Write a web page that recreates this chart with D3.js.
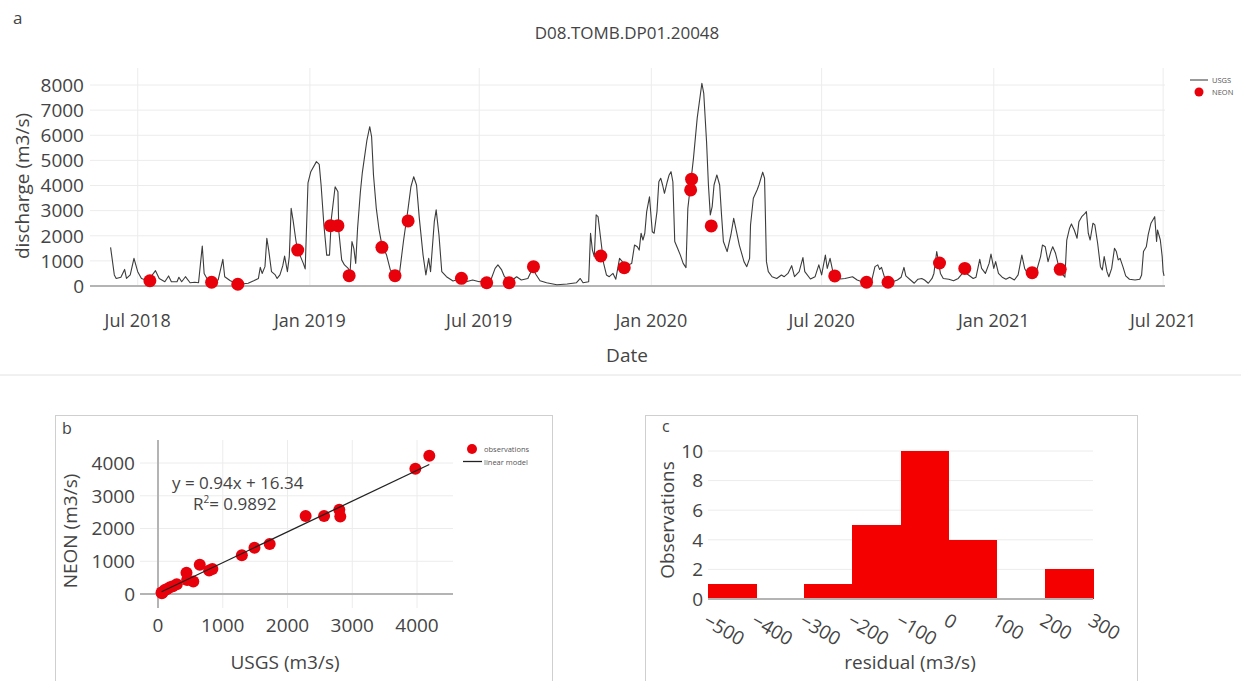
<!DOCTYPE html>
<html><head><meta charset="utf-8">
<script src="https://cdn.jsdelivr.net/npm/d3@7"></script>
<style>
body{margin:0;background:#fff;}
svg{display:block;font-family:"Open Sans",sans-serif;}
</style></head>
<body>
<svg id="c" width="1241" height="681"></svg>
<script>
// ---------------- DATA ----------------
const title = "D08.TOMB.DP01.20048";
const usgsDates = ["2018-06-02","2018-06-06","2018-06-08","2018-06-13","2018-06-17","2018-06-19","2018-06-23","2018-06-27","2018-07-01","2018-07-05","2018-07-12","2018-07-20","2018-07-24","2018-07-30","2018-08-03","2018-08-06","2018-08-12","2018-08-14","2018-08-17","2018-08-21","2018-08-26","2018-08-31","2018-09-04","2018-09-08","2018-09-10","2018-09-13","2018-09-18","2018-09-25","2018-09-30","2018-10-02","2018-10-08","2018-10-13","2018-10-20","2018-10-27","2018-11-02","2018-11-07","2018-11-09","2018-11-11","2018-11-14","2018-11-16","2018-11-18","2018-11-21","2018-11-25","2018-11-27","2018-11-30","2018-12-03","2018-12-05","2018-12-08","2018-12-10","2018-12-12","2018-12-14","2018-12-17","2018-12-19","2018-12-22","2018-12-25","2018-12-27","2018-12-30",
"2019-01-02","2019-01-08","2019-01-11","2019-01-13","2019-01-16","2019-01-19","2019-01-22","2019-01-24","2019-01-28","2019-01-31","2019-02-01","2019-02-04","2019-02-07","2019-02-11","2019-02-13","2019-02-15","2019-02-17","2019-02-19","2019-02-21","2019-02-24","2019-02-26","2019-02-28","2019-03-03","2019-03-06","2019-03-08","2019-03-10","2019-03-13","2019-03-16","2019-03-19","2019-03-24","2019-03-28","2019-04-02","2019-04-07","2019-04-11","2019-04-16","2019-04-19","2019-04-22","2019-04-25","2019-04-28","2019-05-02","2019-05-05","2019-05-08","2019-05-10","2019-05-14","2019-05-16","2019-05-19","2019-05-22","2019-05-27","2019-06-03","2019-06-10","2019-06-17","2019-06-24","2019-07-01","2019-07-07","2019-07-14","2019-07-18","2019-07-21","2019-07-25","2019-07-28","2019-08-01","2019-08-03","2019-08-10","2019-08-15","2019-08-22","2019-08-27","2019-08-31","2019-09-04","2019-09-11","2019-09-22","2019-10-03","2019-10-13","2019-10-17","2019-10-20","2019-10-26","2019-10-28","2019-10-30","2019-11-01","2019-11-03","2019-11-05","2019-11-08","2019-11-11","2019-11-14","2019-11-17","2019-11-21","2019-11-24","2019-11-28","2019-12-01","2019-12-07","2019-12-11","2019-12-14","2019-12-17","2019-12-19","2019-12-21","2019-12-23","2019-12-25","2019-12-27","2019-12-30",
"2020-01-02","2020-01-04","2020-01-07","2020-01-09","2020-01-11","2020-01-13","2020-01-15","2020-01-18","2020-01-20","2020-01-22","2020-01-24","2020-01-26","2020-01-29","2020-02-01","2020-02-04","2020-02-07","2020-02-09","2020-02-11","2020-02-15","2020-02-19","2020-02-24","2020-02-26","2020-02-29","2020-03-02","2020-03-04","2020-03-06","2020-03-08","2020-03-11","2020-03-14","2020-03-16","2020-03-18","2020-03-22","2020-03-26","2020-03-29","2020-04-01","2020-04-04","2020-04-06","2020-04-09","2020-04-12","2020-04-15","2020-04-16","2020-04-19","2020-04-23","2020-04-25","2020-04-29","2020-05-01","2020-05-03","2020-05-05","2020-05-09","2020-05-14","2020-05-19","2020-05-22","2020-05-26","2020-05-30","2020-06-02","2020-06-07","2020-06-11","2020-06-13","2020-06-19","2020-06-24","2020-06-28","2020-07-01","2020-07-05","2020-07-07","2020-07-10","2020-07-13","2020-07-21","2020-07-26","2020-08-03","2020-08-08","2020-08-13","2020-08-18","2020-08-23","2020-08-27","2020-08-30","2020-09-01","2020-09-03","2020-09-06","2020-09-10","2020-09-15","2020-09-20","2020-09-24","2020-09-27","2020-09-29","2020-10-04","2020-10-08","2020-10-12","2020-10-16","2020-10-19","2020-10-23","2020-10-27","2020-10-29","2020-11-01","2020-11-02","2020-11-05","2020-11-08","2020-11-14","2020-11-19","2020-11-24","2020-11-30","2020-12-05","2020-12-10","2020-12-13","2020-12-17","2020-12-19","2020-12-23","2020-12-27","2020-12-29",
"2021-01-01","2021-01-03","2021-01-06","2021-01-10","2021-01-14","2021-01-18","2021-01-23","2021-01-27","2021-01-31","2021-02-03","2021-02-06","2021-02-12","2021-02-16","2021-02-20","2021-02-22","2021-02-25","2021-02-28","2021-03-03","2021-03-05","2021-03-08","2021-03-11","2021-03-13","2021-03-16","2021-03-18","2021-03-20","2021-03-23","2021-03-25","2021-03-28","2021-03-31","2021-04-02","2021-04-05","2021-04-08","2021-04-10","2021-04-12","2021-04-14","2021-04-17","2021-04-19","2021-04-22","2021-04-25","2021-04-27","2021-04-29","2021-05-02","2021-05-04","2021-05-07","2021-05-10","2021-05-12","2021-05-14","2021-05-16","2021-05-19","2021-05-22","2021-05-26","2021-06-01","2021-06-06","2021-06-08","2021-06-10","2021-06-13","2021-06-15","2021-06-18","2021-06-20","2021-06-22","2021-06-24","2021-06-25","2021-06-28","2021-06-30","2021-07-01","2021-07-02"];
const usgsValues = [1540,440,300,350,660,300,440,1100,570,300,210,610,300,170,400,170,170,350,170,370,130,150,130,1590,500,300,170,240,1060,370,210,130,80,110,210,300,740,500,770,1900,1430,570,440,300,440,800,1190,570,1170,3090,2630,1830,1370,1170,900,680,4100,
4550,4950,4840,4020,2430,1230,1230,2690,3950,3750,2160,1040,840,700,570,1770,1500,900,2300,3750,4490,5020,5810,6340,5940,4420,3090,2230,1630,1230,640,440,570,1770,3090,3950,4350,4020,2690,1230,440,1100,570,2560,3030,2030,570,370,200,280,170,240,170,240,300,700,840,640,370,280,170,370,240,300,700,440,210,130,50,80,130,300,130,170,2100,1430,1170,2830,2760,1830,900,440,370,500,270,1100,970,840,900,1630,1560,1430,2100,1830,2100,2960,3550,
2160,2100,2960,4150,4290,4020,3690,4150,4420,4550,4150,1770,1500,1230,900,730,3090,3750,5080,6680,8070,7670,5740,4020,2830,3160,4020,4420,4020,2830,1770,1370,2030,2690,2160,1630,1370,970,770,1100,2430,3490,3820,4020,4530,4290,970,570,370,300,440,370,500,810,370,570,1130,570,280,370,840,440,1230,700,1100,570,280,300,370,240,170,80,130,770,840,660,740,370,240,170,240,350,740,400,240,110,270,300,240,110,300,500,1370,1170,500,300,270,210,300,570,440,300,350,1060,700,500,900,1270,
700,970,500,350,270,350,240,440,1230,700,500,440,640,1170,1630,1560,970,1370,1560,1300,840,660,440,350,1830,2300,2470,2230,1900,2560,2760,2870,2960,2100,1830,2500,2430,1700,770,640,1170,570,370,700,1500,1370,1040,1100,770,400,270,240,270,440,1370,1560,2030,2500,2630,2760,1770,2230,1830,1170,570,400];
const neonDates = ["2018-07-14","2018-09-18","2018-10-16","2018-12-19","2019-01-23","2019-01-31","2019-02-12","2019-03-19","2019-04-02","2019-04-16","2019-06-12","2019-07-09","2019-08-02","2019-08-28","2019-11-08","2019-12-03","2020-02-13","2020-02-12","2020-03-05","2020-07-15","2020-08-18","2020-09-10","2020-11-04","2020-12-01","2021-02-11","2021-03-13"];
const neonValues = [210,150,70,1430,2400,2400,410,1540,410,2590,305,130,130,770,1195,730,4250,3825,2390,400,150,150,915,700,530,665];
const yTicksA = [0,1000,2000,3000,4000,5000,6000,7000,8000];
const xTickDatesA = ["2018-07-01","2019-01-01","2019-07-01","2020-01-01","2020-07-01","2021-01-01","2021-07-01"];
const xTickLabelsA = ["Jul 2018","Jan 2019","Jul 2019","Jan 2020","Jul 2020","Jan 2021","Jul 2021"];

// panel b: observation pairs
const obsUSGS = [4190,3975,2280,2565,2800,2815,1295,1490,1725,645,790,840,440,450,545,290,185,105,55,75,140,60,230];
const obsNEON = [4220,3825,2380,2380,2570,2370,1185,1410,1530,890,720,760,650,430,380,300,205,125,45,60,150,20,240];
const modelSlope = 0.94, modelIntercept = 16.34;
const ticksB = [0,1000,2000,3000,4000];

// panel c: residual histogram
const binStarts = [-500,-400,-300,-200,-100,0,100,200];
const binCounts = [1,0,1,5,10,4,0,2];
const binWidth = 100;
const yTicksC = [0,2,4,6,8,10];
const xTicksC = [-500,-400,-300,-200,-100,0,100,200,300];

// ---------------- DRAW ----------------
const svg = d3.select("#c");
const P = d3.timeParse("%Y-%m-%d");
const txt = "#444", grid = "#ececec", zero = "#b4b4b4";
const markRed = "#e8000b", barRed = "#f50000";

// ===== Panel a =====
const xA = d3.scaleTime().domain([P("2018-05-11"), P("2021-07-03")]).range([90, 1165]);
const yA = d3.scaleLinear().domain([0, 8000]).range([286, 85]);
const gA = svg.append("g");
gA.selectAll(".gy").data(yTicksA.slice(1)).join("line")
  .attr("x1", 90).attr("x2", 1165).attr("y1", d => yA(d)).attr("y2", d => yA(d))
  .attr("stroke", grid).attr("stroke-width", 1);
gA.selectAll(".gx").data(xTickDatesA).join("line")
  .attr("x1", d => xA(P(d))).attr("x2", d => xA(P(d))).attr("y1", 68).attr("y2", 286)
  .attr("stroke", grid).attr("stroke-width", 1);
gA.append("line").attr("x1", 90).attr("x2", 1165).attr("y1", yA(0)).attr("y2", yA(0))
  .attr("stroke", zero).attr("stroke-width", 2);
const usgs = usgsDates.map((d, i) => ({d: P(d), v: usgsValues[i]}));
gA.append("path").datum(usgs)
  .attr("d", d3.line().x(p => xA(p.d)).y(p => yA(p.v)))
  .attr("fill", "none").attr("stroke", "#3c3c3c").attr("stroke-width", 1.1).attr("stroke-linejoin", "round");
const neon = neonDates.map((d, i) => ({d: P(d), v: neonValues[i]}));
gA.selectAll(".neon").data(neon).join("circle")
  .attr("cx", p => xA(p.d)).attr("cy", p => yA(p.v)).attr("r", 6.5).attr("fill", markRed);
gA.selectAll(".yl").data(yTicksA).join("text")
  .attr("x", 84).attr("y", d => yA(d)).attr("dy", "0.36em").attr("text-anchor", "end")
  .attr("font-size", 19).attr("fill", txt).text(d => d);
gA.selectAll(".xl").data(xTickDatesA).join("text")
  .attr("x", d => xA(P(d))).attr("y", 327).attr("text-anchor", "middle")
  .attr("font-size", 18).attr("fill", txt).text((d, i) => xTickLabelsA[i]);
gA.append("text").attr("x", 627).attr("y", 362).attr("text-anchor", "middle")
  .attr("font-size", 19).attr("fill", txt).text("Date");
gA.append("text").attr("transform", "translate(29,186) rotate(-90)").attr("text-anchor", "middle")
  .attr("font-size", 19).attr("fill", txt).text("discharge (m3/s)");
gA.append("text").attr("x", 627).attr("y", 39).attr("text-anchor", "middle")
  .attr("font-size", 17).attr("fill", txt).text(title);
gA.append("text").attr("x", 13).attr("y", 24).attr("font-size", 17).attr("fill", txt).text("a");
// legend a
gA.append("line").attr("x1", 1190).attr("x2", 1208).attr("y1", 80).attr("y2", 80).attr("stroke", "#777").attr("stroke-width", 1.5);
gA.append("text").attr("x", 1212).attr("y", 80).attr("dy", "0.35em").attr("font-size", 7.5).attr("fill", "#555").text("USGS");
gA.append("circle").attr("cx", 1199).attr("cy", 92).attr("r", 4.5).attr("fill", markRed);
gA.append("text").attr("x", 1212).attr("y", 92).attr("dy", "0.35em").attr("font-size", 7.5).attr("fill", "#555").text("NEON");

// separator
svg.append("line").attr("x1", 0).attr("x2", 1241).attr("y1", 375).attr("y2", 375).attr("stroke", "#e2e2e2").attr("stroke-width", 1);

// ===== Panel b =====
const gB = svg.append("g");
gB.append("rect").attr("x", 55.5).attr("y", 415.5).attr("width", 497).attr("height", 280).attr("fill", "none").attr("stroke", "#cfcfcf");
const xB = d3.scaleLinear().domain([0, 4000]).range([158, 417]);
const yB = d3.scaleLinear().domain([0, 4000]).range([594, 463]);
gB.selectAll(".gxb").data(ticksB.slice(1)).join("line")
  .attr("x1", d => xB(d)).attr("x2", d => xB(d)).attr("y1", 440).attr("y2", 608).attr("stroke", grid);
gB.selectAll(".gyb").data(ticksB.slice(1)).join("line")
  .attr("x1", 140).attr("x2", 453).attr("y1", d => yB(d)).attr("y2", d => yB(d)).attr("stroke", grid);
gB.append("line").attr("x1", 140).attr("x2", 453).attr("y1", yB(0)).attr("y2", yB(0)).attr("stroke", zero).attr("stroke-width", 2);
gB.append("line").attr("x1", xB(0)).attr("x2", xB(0)).attr("y1", 440).attr("y2", 608).attr("stroke", zero).attr("stroke-width", 2);
gB.selectAll(".ob").data(obsUSGS.map((u, i) => [u, obsNEON[i]])).join("circle")
  .attr("cx", p => xB(p[0])).attr("cy", p => yB(p[1])).attr("r", 6).attr("fill", markRed);
const xmin = d3.min(obsUSGS), xmax = d3.max(obsUSGS);
gB.append("line").attr("x1", xB(xmin)).attr("y1", yB(modelSlope * xmin + modelIntercept))
  .attr("x2", xB(xmax)).attr("y2", yB(modelSlope * xmax + modelIntercept))
  .attr("stroke", "#222").attr("stroke-width", 1.3);
gB.selectAll(".ylb").data(ticksB).join("text")
  .attr("x", 135).attr("y", d => yB(d)).attr("dy", "0.36em").attr("text-anchor", "end")
  .attr("font-size", 19).attr("fill", txt).text(d => d);
gB.selectAll(".xlb").data(ticksB).join("text")
  .attr("x", d => xB(d)).attr("y", 632).attr("text-anchor", "middle")
  .attr("font-size", 19).attr("fill", txt).text(d => d);
gB.append("text").attr("x", 285).attr("y", 669).attr("text-anchor", "middle").attr("font-size", 19).attr("fill", txt).text("USGS (m3/s)");
gB.append("text").attr("transform", "translate(77,531) rotate(-90)").attr("text-anchor", "middle").attr("font-size", 19).attr("fill", txt).text("NEON (m3/s)");
gB.append("text").attr("x", 62).attr("y", 434).attr("font-size", 16).attr("fill", txt).text("b");
gB.append("text").attr("x", 172).attr("y", 489).attr("font-size", 17).attr("fill", txt)
  .text(`y = ${modelSlope}x + ${modelIntercept}`);
const r2 = gB.append("text").attr("x", 193).attr("y", 510).attr("font-size", 17).attr("fill", txt);
r2.append("tspan").text("R");
r2.append("tspan").attr("font-size", 10).attr("dy", -7).text("2");
r2.append("tspan").attr("dy", 7).text("= 0.9892");
gB.append("circle").attr("cx", 472).attr("cy", 449).attr("r", 5).attr("fill", markRed);
gB.append("text").attr("x", 484).attr("y", 449).attr("dy", "0.35em").attr("font-size", 7.5).attr("fill", "#555").text("observations");
gB.append("line").attr("x1", 463).attr("x2", 482).attr("y1", 461.5).attr("y2", 461.5).attr("stroke", "#222").attr("stroke-width", 1.3);
gB.append("text").attr("x", 484).attr("y", 462).attr("dy", "0.35em").attr("font-size", 7.5).attr("fill", "#555").text("linear model");

// ===== Panel c =====
const gC = svg.append("g");
gC.append("rect").attr("x", 645.5).attr("y", 415.5).attr("width", 492).attr("height", 280).attr("fill", "none").attr("stroke", "#cfcfcf");
const xC = d3.scaleLinear().domain([-500, 300]).range([708, 1093]);
const yC = d3.scaleLinear().domain([0, 10]).range([599, 451]);
gC.selectAll(".gyc").data(yTicksC.slice(1)).join("line")
  .attr("x1", 708).attr("x2", 1093).attr("y1", d => yC(d)).attr("y2", d => yC(d)).attr("stroke", grid);
gC.selectAll(".bar").data(binStarts.map((b, i) => [b, binCounts[i]]).filter(p => p[1] > 0)).join("rect")
  .attr("x", p => xC(p[0])).attr("width", p => xC(p[0] + binWidth) - xC(p[0]) + 0.6)
  .attr("y", p => yC(p[1])).attr("height", p => yC(0) - yC(p[1])).attr("fill", barRed)
  .attr("shape-rendering", "crispEdges");
gC.append("line").attr("x1", 708).attr("x2", 1093).attr("y1", yC(0)).attr("y2", yC(0)).attr("stroke", zero).attr("stroke-width", 2);
gC.selectAll(".ylc").data(yTicksC).join("text")
  .attr("x", 703).attr("y", d => yC(d)).attr("dy", "0.36em").attr("text-anchor", "end")
  .attr("font-size", 19).attr("fill", txt).text(d => d);
gC.selectAll(".xlc").data(xTicksC).join("text")
  .attr("transform", d => `translate(${xC(d) + 1},${612}) rotate(30)`).attr("dy", "0.75em")
  .attr("font-size", 19).attr("fill", txt).text(d => d < 0 ? "\u2212" + Math.abs(d) : d);
gC.append("text").attr("x", 910).attr("y", 669).attr("text-anchor", "middle").attr("font-size", 19).attr("fill", txt).text("residual (m3/s)");
gC.append("text").attr("transform", "translate(674,520) rotate(-90)").attr("text-anchor", "middle").attr("font-size", 19).attr("fill", txt).text("Observations");
gC.append("text").attr("x", 662).attr("y", 432).attr("font-size", 16).attr("fill", txt).text("c");
</script>
</body></html>
